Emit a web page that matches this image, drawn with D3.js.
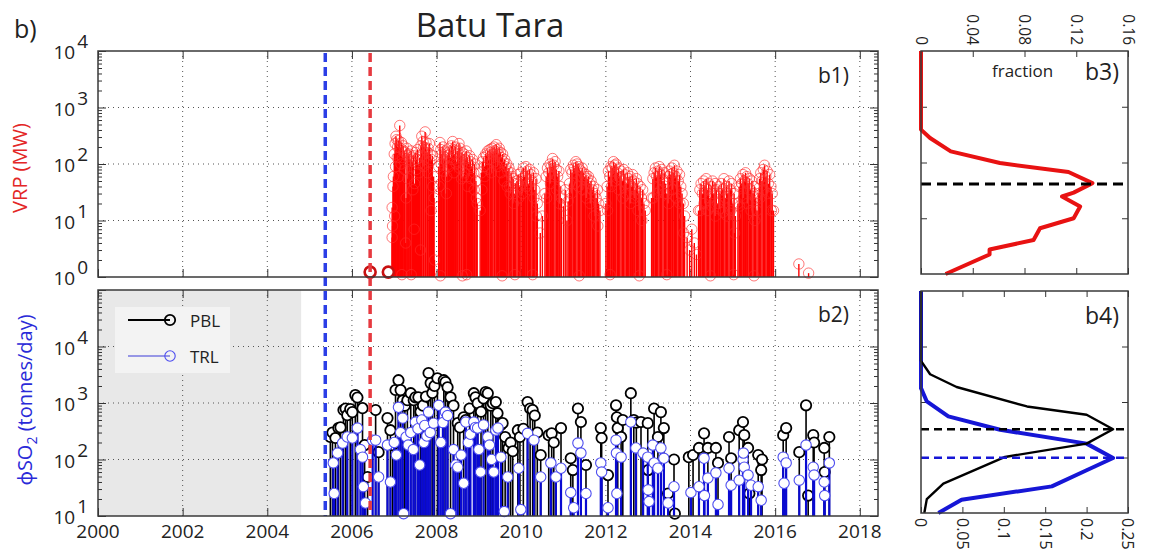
<!DOCTYPE html>
<html>
<head>
<meta charset="utf-8">
<script src="https://cdn.jsdelivr.net/npm/d3@7"></script>
<style>
  body { margin: 0; background: #fff; }
  svg { display: block; }
  text { font-family: "Open Sans", "Noto Sans", sans-serif; }
</style>
</head>
<body>
<svg id="chart" width="1151" height="556"></svg>
<script>
// ---------------- data ----------------
// Volcanic radiative power detections, [decimal year, MW]
const vrpPoints = [
  [2006.95,17],[2006.95,5],[2006.96,8],[2006.97,40],[2006.98,60],[2007.00,150],[2007.01,12],[2007.02,230],[2007.03,90],
  [2007.04,310],[2007.06,270],[2007.07,130],[2007.08,200],[2007.10,260],[2007.11,60],[2007.13,480],[2007.15,190],
  [2007.16,100],[2007.17,240],[2007.18,1.1],[2007.19,130],[2007.21,210],[2007.23,170],[2007.24,80],[2007.25,160],
  [2007.27,4],[2007.28,25],[2007.30,190],[2007.32,55],[2007.33,140],[2007.35,150],[2007.37,120],[2007.38,90],
  [2007.40,170],[2007.40,1.1],[2007.43,110],[2007.44,35],[2007.45,140],[2007.47,7],[2007.48,45],[2007.50,160],
  [2007.52,80],[2007.53,120],[2007.55,180],[2007.57,100],[2007.58,70],[2007.60,130],[2007.62,3],[2007.63,210],
  [2007.64,140],[2007.65,310],[2007.68,250],[2007.69,90],[2007.70,200],[2007.73,370],[2007.74,180],[2007.75,240],
  [2007.78,160],[2007.79,70],[2007.80,190],[2007.83,230],[2007.84,110],[2007.85,150],[2007.87,15],[2007.88,120],
  [2007.90,140],[2007.91,40],[2007.93,60],[2007.94,25],[2007.95,2],
  [2008.05,90],[2008.06,40],[2008.08,240],[2008.09,1.05],[2008.10,180],[2008.11,100],[2008.13,150],[2008.15,200],
  [2008.16,75],[2008.18,120],[2008.20,170],[2008.23,30],[2008.24,60],[2008.25,140],[2008.28,160],[2008.29,90],
  [2008.30,190],[2008.33,130],[2008.35,210],[2008.36,120],[2008.38,250],[2008.40,180],[2008.41,70],[2008.43,150],
  [2008.45,200],[2008.46,100],[2008.48,110],[2008.50,170],[2008.53,230],[2008.54,85],[2008.55,190],[2008.58,140],
  [2008.59,55],[2008.60,160],[2008.61,1.05],[2008.63,60],[2008.65,150],[2008.66,70],[2008.68,120],[2008.70,170],
  [2008.71,1.1],[2008.73,130],[2008.74,40],[2008.75,100],[2008.78,140],[2008.80,110],[2008.81,55],[2008.83,90],
  [2008.85,120],[2008.88,70],[2008.89,35],[2008.90,100],[2008.93,50],[2008.94,25],[2008.96,20],
  [2009.03,15],[2009.06,70],[2009.07,35],[2009.08,110],[2009.11,130],[2009.13,90],[2009.14,60],[2009.16,150],
  [2009.18,140],[2009.21,170],[2009.22,80],[2009.23,120],[2009.26,180],[2009.28,160],[2009.29,70],[2009.31,190],
  [2009.33,150],[2009.36,200],[2009.37,110],[2009.38,170],[2009.41,220],[2009.43,180],[2009.44,90],[2009.46,150],
  [2009.48,190],[2009.51,160],[2009.52,70],[2009.53,130],[2009.55,1.05],[2009.56,150],[2009.58,110],[2009.59,50],
  [2009.61,120],[2009.63,90],[2009.66,100],[2009.67,40],[2009.68,75],[2009.71,85],[2009.73,40],[2009.74,30],
  [2009.76,70],[2009.78,60],[2009.81,55],[2009.82,20],[2009.84,30],[2009.85,1.1],[2009.87,45],
  [2009.90,50],[2009.93,65],[2009.94,25],[2009.96,40],[2009.99,70],[2010.02,55],[2010.03,30],[2010.05,85],
  [2010.08,60],[2010.11,90],[2010.12,40],[2010.14,75],[2010.17,45],[2010.20,80],[2010.21,35],[2010.23,65],
  [2010.26,50],[2010.27,1.1],[2010.29,70],[2010.30,25],[2010.32,35],[2010.35,55],[2010.36,12],[2010.38,20],
  [2010.45,6],[2010.50,12],
  [2010.56,30],[2010.59,60],[2010.60,25],[2010.62,85],[2010.65,70],[2010.68,100],[2010.69,45],[2010.71,90],
  [2010.74,125],[2010.75,60],[2010.77,95],[2010.80,110],[2010.83,80],[2010.84,35],[2010.86,60],[2010.89,75],
  [2010.90,20],[2010.92,40],[2010.95,25],
  [2011.00,18],[2011.04,35],[2011.08,10],[2011.11,22],
  [2011.14,45],[2011.17,80],[2011.18,30],[2011.20,70],[2011.23,95],[2011.26,85],[2011.27,45],[2011.29,110],
  [2011.32,100],[2011.35,90],[2011.36,40],[2011.37,1.05],[2011.38,80],[2011.41,75],[2011.44,85],[2011.45,35],
  [2011.47,70],[2011.50,60],[2011.53,65],[2011.54,25],[2011.56,55],[2011.59,60],[2011.62,45],[2011.63,20],
  [2011.65,50],[2011.68,35],[2011.71,40],[2011.72,12],[2011.74,30],[2011.77,25],[2011.80,35],[2011.81,8],
  [2011.83,20],[2011.86,15],
  [2012.00,20],[2012.03,40],[2012.04,15],[2012.06,75],[2012.09,60],[2012.10,1.1],[2012.12,90],[2012.13,40],
  [2012.15,85],[2012.18,110],[2012.21,95],[2012.22,50],[2012.24,100],[2012.27,70],[2012.30,85],[2012.31,35],
  [2012.33,60],[2012.36,75],[2012.39,50],[2012.40,25],[2012.42,80],[2012.45,65],[2012.48,45],[2012.49,30],
  [2012.51,70],[2012.54,55],[2012.57,60],[2012.58,20],[2012.60,40],[2012.63,65],[2012.66,50],[2012.67,25],
  [2012.69,35],[2012.72,55],[2012.75,45],[2012.76,15],[2012.78,30],[2012.79,1.05],[2012.81,40],[2012.84,25],
  [2012.85,10],[2012.87,35],[2012.90,20],[2012.93,15],
  [2013.08,25],[2013.11,55],[2013.12,25],[2013.14,70],[2013.17,85],[2013.20,60],[2013.21,30],[2013.23,75],
  [2013.26,90],[2013.29,65],[2013.30,35],[2013.32,80],[2013.35,50],[2013.38,70],[2013.39,30],[2013.41,45],
  [2013.44,30],[2013.44,1.1],[2013.47,60],[2013.48,20],[2013.50,75],[2013.53,65],[2013.56,85],[2013.57,35],
  [2013.59,70],[2013.62,95],[2013.65,60],[2013.66,25],[2013.68,75],[2013.71,50],[2013.74,65],[2013.75,20],
  [2013.77,40],[2013.80,30],[2013.83,20],[2013.84,6],[2013.86,12],
  [2013.92,5],[2013.98,3],[2014.03,7],[2014.09,4],[2014.14,2.5],
  [2014.19,15],[2014.22,35],[2014.23,15],[2014.25,45],[2014.28,30],[2014.31,50],[2014.32,20],[2014.34,40],
  [2014.37,55],[2014.40,35],[2014.41,15],[2014.43,45],[2014.46,25],[2014.47,1.05],[2014.49,40],[2014.50,18],
  [2014.52,50],[2014.55,30],[2014.58,45],[2014.59,12],[2014.61,35],[2014.64,20],[2014.67,40],[2014.68,16],
  [2014.70,30],[2014.73,45],[2014.76,35],[2014.77,14],[2014.79,55],[2014.82,25],[2014.85,40],[2014.86,12],
  [2014.88,30],[2014.91,50],[2014.94,35],[2014.95,15],[2014.97,45],[2015.00,20],[2015.02,1.1],[2015.03,30],
  [2015.04,6],[2015.06,12],
  [2015.12,20],[2015.15,40],[2015.16,18],[2015.18,55],[2015.21,45],[2015.24,65],[2015.25,25],[2015.27,50],
  [2015.30,70],[2015.33,60],[2015.34,20],[2015.36,45],[2015.39,55],[2015.42,35],[2015.43,15],[2015.45,50],
  [2015.48,30],[2015.50,1.05],[2015.51,40],[2015.52,10],[2015.54,25],[2015.57,15],
  [2015.60,30],[2015.63,55],[2015.64,25],[2015.66,70],[2015.69,50],[2015.72,80],[2015.73,35],[2015.75,95],
  [2015.78,60],[2015.81,75],[2015.82,30],[2015.84,45],[2015.87,65],[2015.90,40],[2015.91,15],[2015.93,30],
  [2015.96,15],
  [2016.56,1.7],[2016.79,1.17]
];
// first detections, drawn with heavy markers
const vrpFirst = [[2006.43,1.22],[2006.86,1.22]];

// SO2 flux, [decimal year, tonnes/day]
const pblPoints = [
  [2005.49,250],[2005.54,300],[2005.61,240],[2005.68,360],[2005.73,370],[2005.80,750],[2005.85,800],[2005.89,610],
  [2005.96,780],[2006.01,690],[2006.08,1380],[2006.13,1250],[2006.25,810],[2006.30,180],[2006.37,49],[2006.56,750],
  [2006.63,135],[2006.84,540],[2006.91,330],[2006.96,180],[2007.03,1700],[2007.10,2530],[2007.15,1690],[2007.20,1100],
  [2007.25,900],[2007.31,1120],[2007.39,1490],[2007.46,1120],[2007.50,1260],[2007.57,1260],[2007.62,700],[2007.68,900],
  [2007.75,1300],[2007.81,3390],[2007.86,2250],[2007.90,1500],[2007.95,2000],[2008.02,2740],[2008.17,2530],[2008.21,2340],
  [2008.26,1900],[2008.33,1260],[2008.40,900],[2008.50,440],[2008.55,370],[2008.64,560],[2008.69,500],[2008.78,800],
  [2008.88,1490],[2008.92,1260],[2008.97,990],[2009.05,700],[2009.11,1200],[2009.16,1560],[2009.21,1490],[2009.28,900],
  [2009.33,990],[2009.40,1040],[2009.44,660],[2009.52,410],[2009.56,440],[2009.62,250],[2009.70,160],[2009.75,200],
  [2009.80,140],[2009.92,330],[2009.97,250],[2010.05,350],[2010.15,1040],[2010.21,800],[2010.27,750],[2010.32,600],
  [2010.38,300],[2010.46,120],[2010.65,270],[2010.72,290],[2010.77,200],[2010.94,360],[2011.17,105],[2011.22,65],
  [2011.34,800],[2011.41,460],[2011.53,80],[2011.88,360],[2011.90,240],[2012.05,53],[2012.24,910],[2012.26,560],
  [2012.28,360],[2012.36,250],[2012.40,500],[2012.59,1490],[2012.66,500],[2012.72,450],[2012.83,460],[2012.99,440],
  [2013.00,65],[2013.14,800],[2013.23,250],[2013.30,690],[2013.37,360],[2013.47,25],[2013.61,100],[2013.63,11],
  [2013.96,110],[2014.06,120],[2014.20,160],[2014.32,290],[2014.41,160],[2014.60,160],[2014.65,87],[2014.91,250],
  [2014.96,105],[2015.15,330],[2015.24,460],[2015.27,270],[2015.36,160],[2015.39,25],[2015.60,120],[2015.67,65],
  [2015.69,100],[2016.19,270],[2016.26,360],[2016.57,135],[2016.73,910],[2016.78,23],[2016.90,270],[2016.92,200],
  [2017.16,160],[2017.17,60],[2017.28,250]
];
const trlPoints = [
  [2005.56,87],[2005.58,25],[2005.66,130],[2005.78,195],[2005.89,250],[2006.01,240],[2006.13,360],[2006.20,150],
  [2006.25,110],[2006.27,33],[2006.32,17],[2006.49,220],[2006.56,220],[2006.63,49],[2006.84,180],[2006.91,40],
  [2007.00,200],[2007.05,120],[2007.10,840],[2007.15,300],[2007.20,540],[2007.22,11],[2007.28,250],[2007.33,180],
  [2007.39,300],[2007.45,150],[2007.50,460],[2007.56,350],[2007.60,80],[2007.65,500],[2007.70,200],[2007.72,400],
  [2007.77,260],[2007.81,690],[2007.85,300],[2007.93,440],[2008.05,910],[2008.10,200],[2008.15,450],[2008.21,690],
  [2008.26,600],[2008.33,11],[2008.40,150],[2008.45,80],[2008.50,73],[2008.58,120],[2008.64,38],[2008.69,460],
  [2008.75,200],[2008.80,280],[2008.88,460],[2008.92,370],[2008.97,360],[2009.00,150],[2009.04,60],[2009.11,410],
  [2009.21,250],[2009.25,180],[2009.30,100],[2009.35,60],[2009.40,330],[2009.45,360],[2009.52,110],[2009.60,12],
  [2009.68,49],[2009.94,70],[2009.99,13],[2010.15,290],[2010.30,220],[2010.46,49],[2010.70,87],[2010.82,49],
  [2010.94,70],[2011.17,26],[2011.24,14],[2011.34,195],[2011.41,130],[2011.53,25],[2011.88,87],[2011.90,60],
  [2012.05,14],[2012.24,220],[2012.25,130],[2012.26,25],[2012.36,110],[2012.59,460],[2012.71,160],[2012.88,130],
  [2012.99,110],[2013.00,29],[2013.02,18],[2013.11,180],[2013.14,87],[2013.23,70],[2013.30,160],[2013.37,105],
  [2013.47,17],[2013.61,33],[2014.01,26],[2014.20,33],[2014.32,105],[2014.33,23],[2014.41,47],[2014.60,58],
  [2014.65,16],[2014.91,70],[2014.96,35],[2015.15,43],[2015.24,100],[2015.25,130],[2015.27,73],[2015.36,53],
  [2015.43,35],[2015.60,33],[2015.67,19],[2016.19,110],[2016.21,38],[2016.26,87],[2016.57,43],[2016.73,180],
  [2016.90,73],[2016.92,53],[2017.16,40],[2017.17,23],[2017.28,87]
];

// Frequency distributions: log10 of value vs fraction
const vrpHistLog  = [4.0, 2.59, 2.44, 2.20, 1.99, 1.83, 1.63, 1.46, 1.39, 1.21, 1.00, 0.82, 0.61, 0.44, 0.35, 0.0];
const vrpHistFrac = [0, 0, 0.007, 0.023, 0.061, 0.114, 0.1325, 0.118, 0.109, 0.123, 0.118, 0.092, 0.087, 0.053, 0.053, 0.019];
const pblHistLog  = [5.0, 3.74, 3.50, 3.27, 2.92, 2.77, 2.51, 2.25, 2.01, 1.53, 1.25, 1.0];
const pblHistFrac = [0, 0, 0.011, 0.043, 0.128, 0.200, 0.232, 0.200, 0.1015, 0.027, 0.007, 0.004];
const trlHistLog  = [5.0, 3.25, 3.01, 2.74, 2.50, 2.25, 1.99, 1.77, 1.48, 1.24, 1.0];
const trlHistFrac = [0, 0, 0.007, 0.033, 0.0955, 0.200, 0.232, 0.200, 0.158, 0.049, 0.021];
// modal values (dashed markers)
const vrpMode = 41;
const pblMode = 322;
const trlMode = 99;

// Event dates (vertical dashed lines)
const eventYears  = [2005.37, 2006.43];
const eventColors = ["#2b3ee6", "#e63a40"];
// Period without SO2 coverage
const noDataSpan = [2000, 2004.8];

const yearTicks = [2000, 2002, 2004, 2006, 2008, 2010, 2012, 2014, 2016, 2018];
const vrpDecades = [1, 10, 100, 1000, 10000];
const so2Decades = [10, 100, 1000, 10000, 100000];
const so2Labelled = [10, 100, 1000, 10000];
const frac3Ticks = [0, 0.04, 0.08, 0.12, 0.16];
const frac4Ticks = [0, 0.05, 0.1, 0.15, 0.2, 0.25];

// ---------------- layout ----------------
const svg = d3.select("#chart");
const L = 98, R = 878;
const P1 = {top: 51, bottom: 277};
const P2 = {top: 290, bottom: 516};
const SL = 921, SR = 1128;
const P3 = {top: 51, bottom: 274};
const P4 = {top: 291, bottom: 513};

const x = d3.scaleLinear().domain([2000, 2018.43]).range([L, R]);
const yV = d3.scaleLog().domain([1, 1e4]).range([P1.bottom, P1.top]);
const yS = d3.scaleLog().domain([10, 1e5]).range([P2.bottom, P2.top]);
const xF3 = d3.scaleLinear().domain([0, 0.16]).range([SL, SR]);
const yF3 = d3.scaleLog().domain([1, 1e4]).range([P3.bottom, P3.top]);
const xF4 = d3.scaleLinear().domain([0, 0.25]).range([SL, SR]);
const yF4 = d3.scaleLog().domain([10, 1e5]).range([P4.bottom, P4.top]);

const minorsOf = decs => decs.slice(0, -1).flatMap(d => d3.range(2, 10).map(k => k * d));
const axisColor = "#333";

function styleAxis(g) {
  g.select(".domain").remove();
  g.selectAll(".tick line").attr("stroke", axisColor).attr("stroke-width", 1);
  g.selectAll(".tick text").remove();
}

function grid(g, xs, ys, xScale, yScale, top, bottom, left, right) {
  g.selectAll(null).data(xs).join("line")
    .attr("x1", d => xScale(d)).attr("x2", d => xScale(d))
    .attr("y1", top).attr("y2", bottom);
  g.selectAll(null).data(ys).join("line")
    .attr("x1", left).attr("x2", right)
    .attr("y1", d => yScale(d)).attr("y2", d => yScale(d));
  g.selectAll("line").attr("stroke", "#555").attr("stroke-width", 1).attr("stroke-dasharray", "1,4");
}

function logTicks(yScale, decs, top, bottom) {
  const g = svg.append("g");
  g.append("g").attr("transform", `translate(${L},0)`)
    .call(d3.axisLeft(yScale).tickValues(decs).tickSize(-8)).call(styleAxis);
  g.append("g").attr("transform", `translate(${L},0)`)
    .call(d3.axisLeft(yScale).tickValues(minorsOf(decs)).tickSize(-4)).call(styleAxis);
  g.append("g").attr("transform", `translate(${R},0)`)
    .call(d3.axisRight(yScale).tickValues(decs).tickSize(-8)).call(styleAxis);
  g.append("g").attr("transform", `translate(${R},0)`)
    .call(d3.axisRight(yScale).tickValues(minorsOf(decs)).tickSize(-4)).call(styleAxis);
  g.append("g").attr("transform", `translate(0,${bottom})`)
    .call(d3.axisBottom(x).tickValues(yearTicks).tickSize(-8)).call(styleAxis);
  g.append("g").attr("transform", `translate(0,${top})`)
    .call(d3.axisTop(x).tickValues(yearTicks).tickSize(-8)).call(styleAxis);
}

function powerLabels(yScale, vals) {
  const t = svg.append("g").selectAll(null).data(vals).join("text")
    .attr("x", 88).attr("y", d => yScale(d) + 8)
    .attr("text-anchor", "end").attr("font-size", 19).attr("fill", "#222");
  t.append("tspan").text("10");
  t.append("tspan").attr("dx", 2).attr("dy", -11).text(d => Math.round(Math.log10(d)));
}

function stems(g, data, yScale, base, o) {
  g.append("g").selectAll(null).data(data).join("line")
    .attr("x1", d => x(d[0])).attr("x2", d => x(d[0]))
    .attr("y1", yScale(base)).attr("y2", d => yScale(d[1]))
    .attr("stroke", o.stem).attr("stroke-width", o.stemW);
  g.append("g").selectAll(null).data(data).join("circle")
    .attr("cx", d => x(d[0])).attr("cy", d => yScale(d[1])).attr("r", o.r)
    .attr("fill", o.fill).attr("stroke", o.mark).attr("stroke-width", o.markW)
    .attr("stroke-opacity", o.markOp || 1);
}

// ---------------- panel b1: VRP ----------------
grid(svg.append("g"), yearTicks.slice(1), [10, 100, 1000], x, yV, P1.top, P1.bottom, L, R);
logTicks(yV, vrpDecades, P1.top, P1.bottom);
powerLabels(yV, vrpDecades);

const g1 = svg.append("g");
stems(g1, vrpPoints, yV, 1, {stem: "#ff0000", stemW: 1.4, r: 5.2, fill: "none", mark: "#ff2a2a", markW: 0.8, markOp: 0.8});
stems(g1, vrpFirst, yV, 1, {stem: "#c00000", stemW: 1.2, r: 5.5, fill: "#fff", mark: "#c81010", markW: 2.6});

// ---------------- panel b2: SO2 flux ----------------
svg.append("rect")
  .attr("x", x(noDataSpan[0])).attr("y", P2.top)
  .attr("width", x(noDataSpan[1]) - x(noDataSpan[0])).attr("height", P2.bottom - P2.top)
  .attr("fill", "#e8e8e8");
grid(svg.append("g"), yearTicks.slice(1), [100, 1000, 10000], x, yS, P2.top, P2.bottom, L, R);
logTicks(yS, so2Decades, P2.top, P2.bottom);
powerLabels(yS, so2Labelled);

const g2 = svg.append("g");
stems(g2, pblPoints, yS, 10, {stem: "#000", stemW: 1.6, r: 5.2, fill: "#fff", mark: "#000", markW: 1.8});
stems(g2, trlPoints, yS, 10, {stem: "#0a0ad2", stemW: 2.2, r: 5.2, fill: "#fff", mark: "#4d4df0", markW: 1.1});

// x tick labels
svg.append("g").selectAll(null).data(yearTicks).join("text")
  .attr("x", d => x(d)).attr("y", 538).attr("text-anchor", "middle")
  .attr("font-size", 19).attr("fill", "#222").text(d => d);

// legend
const lg = svg.append("g");
lg.append("rect").attr("x", 115).attr("y", 307).attr("width", 115).attr("height", 66).attr("fill", "#f3f3f3");
const legendItems = [
  {label: "PBL", y: 320, line: "#000", lineW: 1.8, mark: "#000", markW: 1.8},
  {label: "TRL", y: 356, line: "#3b3bd8", lineW: 1.1, mark: "#4d4df0", markW: 1.1}
];
legendItems.forEach(it => {
  lg.append("line").attr("x1", 128).attr("x2", 170).attr("y1", it.y).attr("y2", it.y)
    .attr("stroke", it.line).attr("stroke-width", it.lineW);
  lg.append("circle").attr("cx", 170).attr("cy", it.y).attr("r", 5.2)
    .attr("fill", "none").attr("stroke", it.mark).attr("stroke-width", it.markW);
  lg.append("text").attr("x", 190).attr("y", it.y + 7).attr("font-size", 17).attr("fill", "#222").text(it.label);
});

// event lines across both panels
svg.append("g").selectAll(null).data(eventYears).join("line")
  .attr("x1", d => x(d)).attr("x2", d => x(d))
  .attr("y1", P1.top + 2).attr("y2", P2.bottom)
  .attr("stroke", (d, i) => eventColors[i]).attr("stroke-width", 3.5)
  .attr("stroke-dasharray", "9,5");

// frames
[P1, P2].forEach(p => svg.append("rect").attr("x", L).attr("y", p.top)
  .attr("width", R - L).attr("height", p.bottom - p.top)
  .attr("fill", "none").attr("stroke", "#3a3a3a").attr("stroke-width", 1.5));

// ---------------- panel b3: VRP distribution ----------------
function sideTicks(xScale, yScale, xt, decs, top, bottom) {
  const g = svg.append("g");
  g.append("g").attr("transform", `translate(0,${top})`)
    .call(d3.axisTop(xScale).tickValues(xt).tickSize(-6)).call(styleAxis);
  g.append("g").attr("transform", `translate(0,${bottom})`)
    .call(d3.axisBottom(xScale).tickValues(xt).tickSize(-6)).call(styleAxis);
  g.append("g").attr("transform", `translate(${SR},0)`)
    .call(d3.axisRight(yScale).tickValues(decs).tickSize(-6)).call(styleAxis);
  g.append("g").attr("transform", `translate(${SL},0)`)
    .call(d3.axisLeft(yScale).tickValues(decs).tickSize(-6)).call(styleAxis);
}
sideTicks(xF3, yF3, frac3Ticks, [10, 100, 1000], P3.top, P3.bottom);

const line3 = d3.line().x((d, i) => xF3(vrpHistFrac[i])).y(d => yF3(Math.pow(10, d)));
svg.append("path").datum(vrpHistLog).attr("d", line3)
  .attr("fill", "none").attr("stroke", "#e81212").attr("stroke-width", 4).attr("stroke-linejoin", "round");
svg.append("line").attr("x1", SL).attr("x2", SR).attr("y1", yF3(vrpMode)).attr("y2", yF3(vrpMode))
  .attr("stroke", "#000").attr("stroke-width", 3).attr("stroke-dasharray", "10,6");
svg.append("rect").attr("x", SL).attr("y", P3.top).attr("width", SR - SL).attr("height", P3.bottom - P3.top)
  .attr("fill", "none").attr("stroke", "#3a3a3a").attr("stroke-width", 1.5);

svg.append("g").selectAll(null).data(frac3Ticks).join("text")
  .attr("transform", d => `translate(${xF3(d)},${P3.top - 6}) rotate(90)`)
  .attr("dy", "0.35em").attr("text-anchor", "end").attr("font-size", 15.5).attr("fill", "#222")
  .text(d => d === 0 ? "0" : d.toFixed(2));
svg.append("text").attr("x", 992).attr("y", 77).attr("font-size", 17).attr("fill", "#222").text("fraction");

// ---------------- panel b4: SO2 distributions ----------------
sideTicks(xF4, yF4, frac4Ticks, [100, 1000, 10000], P4.top, P4.bottom);
const line4 = frac => d3.line().x((d, i) => xF4(frac[i])).y(d => yF4(Math.pow(10, d)));
svg.append("path").datum(trlHistLog).attr("d", line4(trlHistFrac))
  .attr("fill", "none").attr("stroke", "#1616d6").attr("stroke-width", 4).attr("stroke-linejoin", "round");
svg.append("path").datum(pblHistLog).attr("d", line4(pblHistFrac))
  .attr("fill", "none").attr("stroke", "#000").attr("stroke-width", 2.4).attr("stroke-linejoin", "round");
[[pblMode, "#000"], [trlMode, "#1616d6"]].forEach(([m, c]) =>
  svg.append("line").attr("x1", SL).attr("x2", SR).attr("y1", yF4(m)).attr("y2", yF4(m))
    .attr("stroke", c).attr("stroke-width", 2.6).attr("stroke-dasharray", "8,5"));
svg.append("rect").attr("x", SL).attr("y", P4.top).attr("width", SR - SL).attr("height", P4.bottom - P4.top)
  .attr("fill", "none").attr("stroke", "#3a3a3a").attr("stroke-width", 1.5);

svg.append("g").selectAll(null).data(frac4Ticks).join("text")
  .attr("transform", d => `translate(${xF4(d)},${P4.bottom + 5}) rotate(90)`)
  .attr("dy", "0.35em").attr("text-anchor", "start").attr("font-size", 16).attr("fill", "#222")
  .text(d => d === 0 ? "0" : String(d));

// ---------------- titles and labels ----------------
svg.append("text").attr("x", 490).attr("y", 37).attr("text-anchor", "middle")
  .attr("font-size", 33).attr("fill", "#222").text("Batu Tara");
svg.append("text").attr("x", 14).attr("y", 38).attr("font-size", 25).attr("fill", "#222").text("b)");

const panelTags = [["b1)", 818, 83, 21], ["b2)", 818, 322, 21], ["b3)", 1085, 80, 23], ["b4)", 1085, 324, 23]];
panelTags.forEach(([t, px, py, fs]) =>
  svg.append("text").attr("x", px).attr("y", py).attr("font-size", fs).attr("fill", "#222").text(t));

svg.append("text").attr("transform", "translate(27,168) rotate(-90)")
  .attr("text-anchor", "middle").attr("font-size", 20).attr("fill", "#e32626").text("VRP (MW)");
const so2Label = svg.append("text").attr("transform", "translate(32,400) rotate(-90)")
  .attr("text-anchor", "middle").attr("font-size", 20).attr("fill", "#2a2ad8");
so2Label.append("tspan").text("\u03D5SO");
so2Label.append("tspan").attr("font-size", 14).attr("dy", 5).text("2");
so2Label.append("tspan").attr("dy", -5).text(" (tonnes/day)");
</script>
</body>
</html>
